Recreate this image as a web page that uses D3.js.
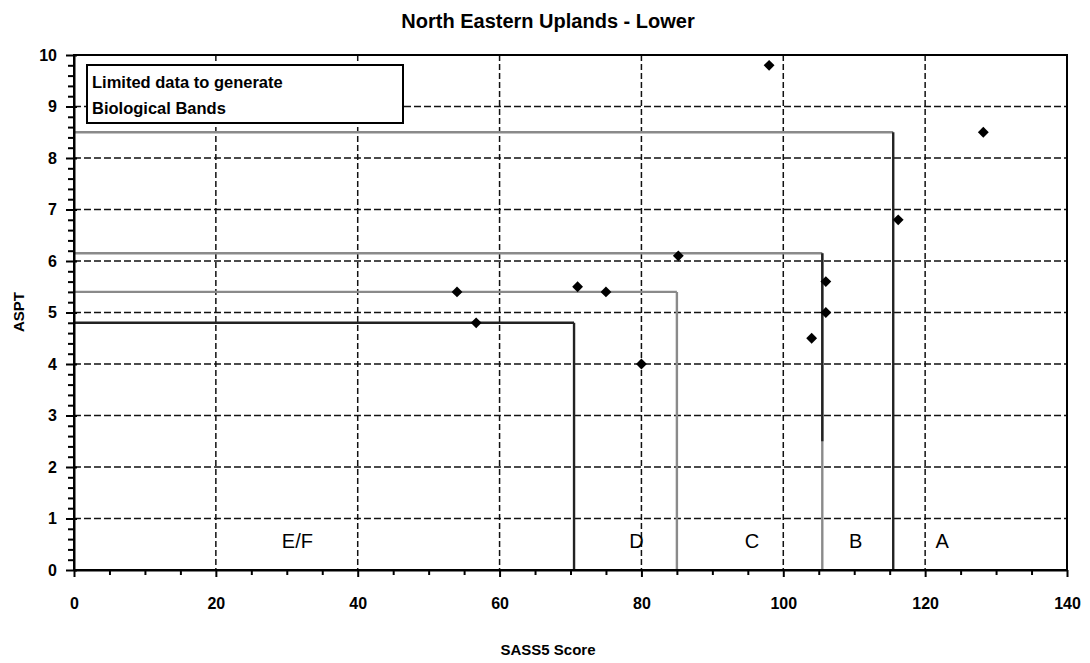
<!DOCTYPE html>
<html>
<head>
<meta charset="utf-8">
<script src="https://cdn.jsdelivr.net/npm/d3@7"></script>
<style>
body{margin:0;background:#fff;}
svg{font-family:Arial,"Liberation Sans",sans-serif;}
</style>
</head>
<body>
<svg id="chart" width="1090" height="663"></svg>
<script>
// scatter points (SASS5 score, ASPT)
var sassScores = [54, 56.7, 71, 75, 80, 85.2, 98, 104, 106, 106, 116.2, 128.2];
var asptValues = [5.4, 4.8, 5.5, 5.4, 4.0, 6.1, 9.8, 4.5, 5.6, 5.0, 6.8, 8.5];

// band boundaries: corner of each step line
var bandSass = [70.5, 85, 105.5, 115.5];
var bandAspt = [4.8, 5.4, 6.15, 8.5];
var bandDark = [true, false, false, true];

// band names and where they sit along the x axis
var bandNames = ["E/F", "D", "C", "B", "A"];
var bandLabelX = [31.5, 79.3, 95.6, 110.2, 122.4];

var xTicks = [0, 20, 40, 60, 80, 100, 120, 140];
var yTicks = [0, 1, 2, 3, 4, 5, 6, 7, 8, 9, 10];

// plot box (named so they don't clash with window.top)
var pLeft = 74, pRight = 1067, pTop = 55, pBottom = 570;

var svg = d3.select("#chart");

var x = d3.scaleLinear().domain([0, 140]).range([pLeft, pRight]);
var y = d3.scaleLinear().domain([0, 10]).range([pBottom, pTop]);

svg.append("text")
	.attr("x", 548).attr("y", 28)
	.attr("text-anchor", "middle")
	.attr("font-size", "20px").attr("font-weight", "bold")
	.text("North Eastern Uplands - Lower");

// dashed grid
svg.append("g").selectAll("line")
	.data(yTicks.slice(1, -1))
	.enter().append("line")
	.attr("x1", pLeft).attr("x2", pRight)
	.attr("y1", function(d){return y(d);}).attr("y2", function(d){return y(d);})
	.attr("stroke", "#111").attr("stroke-width", 1.5)
	.attr("stroke-dasharray", "7,3");

svg.append("g").selectAll("line")
	.data(xTicks.slice(1, -1))
	.enter().append("line")
	.attr("y1", pTop).attr("y2", pBottom)
	.attr("x1", function(d){return x(d);}).attr("x2", function(d){return x(d);})
	.attr("stroke", "#111").attr("stroke-width", 1.5)
	.attr("stroke-dasharray", "6,3");

// band step lines
var bands = svg.append("g");
for(var i=0;i<bandSass.length;i++){
	var col = bandDark[i] ? "#222" : "#8a8a8a";
	bands.append("line")
		.attr("x1", x(0)).attr("x2", x(bandSass[i]))
		.attr("y1", y(bandAspt[i])).attr("y2", y(bandAspt[i]))
		.attr("stroke", i==0 ? col : "#8a8a8a").attr("stroke-width", 2.4);
	bands.append("line")
		.attr("x1", x(bandSass[i])).attr("x2", x(bandSass[i]))
		.attr("y1", y(bandAspt[i])).attr("y2", y(0))
		.attr("stroke", col).attr("stroke-width", 2.4);
}
// darker overlay on the C boundary
bands.append("line")
	.attr("x1", x(105.5)).attr("x2", x(105.5))
	.attr("y1", y(6.15)).attr("y2", y(2.5))
	.attr("stroke", "#222").attr("stroke-width", 2.4);

// band names
svg.append("g").selectAll("text")
	.data(bandNames)
	.enter().append("text")
	.attr("x", function(d,i){return x(bandLabelX[i]);})
	.attr("y", y(0.42))
	.attr("text-anchor", "middle")
	.attr("font-size", "20px")
	.text(function(d){return d;});

// points
svg.append("g").selectAll("path")
	.data(sassScores)
	.enter().append("path")
	.attr("d", d3.symbol().type(d3.symbolDiamond2).size(75))
	.attr("transform", function(d,i){return "translate(" + x(d) + "," + y(asptValues[i]) + ")";})
	.attr("fill", "#000");

// frame
svg.append("rect")
	.attr("x", pLeft).attr("y", pTop)
	.attr("width", pRight-pLeft).attr("height", pBottom-pTop)
	.attr("fill", "none").attr("stroke", "#000").attr("stroke-width", 2);

// axes
var xAxis = d3.axisBottom(x).tickValues(xTicks).tickSize(7).tickPadding(21).tickSizeOuter(0);
var gx = svg.append("g").attr("transform", "translate(0," + pBottom + ")").call(xAxis);
gx.select(".domain").attr("stroke-width", 2);
gx.selectAll(".tick line").attr("stroke-width", 2);
gx.selectAll("text").attr("font-size", "16px").attr("font-weight", "bold").attr("font-family", "Arial,'Liberation Sans',sans-serif");

var xMinor = d3.axisBottom(x).tickValues(d3.range(5, 140, 5).filter(function(d){return d%20!=0;})).tickSize(5).tickFormat("").tickSizeOuter(0);
svg.append("g").attr("transform", "translate(0," + pBottom + ")").call(xMinor)
	.call(function(g){g.select(".domain").remove(); g.selectAll("line").attr("stroke-width", 2);});

var yAxis = d3.axisLeft(y).tickValues(yTicks).tickSize(8).tickPadding(9).tickSizeOuter(0);
var gy = svg.append("g").attr("transform", "translate(" + pLeft + ",0)").call(yAxis);
gy.select(".domain").attr("stroke-width", 2);
gy.selectAll(".tick line").attr("stroke-width", 2).attr("x2", -8).attr("x1", 3);
gy.selectAll("text").attr("font-size", "16px").attr("font-weight", "bold").attr("font-family", "Arial,'Liberation Sans',sans-serif");

var yMinor = d3.axisLeft(y).tickValues(d3.range(1, 50).filter(function(d){return d%5!=0;}).map(function(d){return d/5;})).tickSize(6).tickFormat("").tickSizeOuter(0);
svg.append("g").attr("transform", "translate(" + pLeft + ",0)").call(yMinor)
	.call(function(g){g.select(".domain").remove(); g.selectAll("line").attr("stroke-width", 2);});

// axis titles
svg.append("text")
	.attr("x", 548).attr("y", 655)
	.attr("text-anchor", "middle")
	.attr("font-size", "15px").attr("font-weight", "bold")
	.text("SASS5 Score");

svg.append("text")
	.attr("transform", "translate(24,312) rotate(-90)")
	.attr("text-anchor", "middle")
	.attr("font-size", "15px").attr("font-weight", "bold")
	.text("ASPT");

// note box
svg.append("rect")
	.attr("x", 87).attr("y", 65).attr("width", 316).attr("height", 58)
	.attr("fill", "#fff").attr("stroke", "#000").attr("stroke-width", 2);
svg.append("text")
	.attr("x", 92).attr("y", 88)
	.attr("font-size", "16.5px").attr("font-weight", "bold")
	.text("Limited data to generate");
svg.append("text")
	.attr("x", 92).attr("y", 114)
	.attr("font-size", "16.5px").attr("font-weight", "bold")
	.text("Biological Bands");
</script>
</body>
</html>
